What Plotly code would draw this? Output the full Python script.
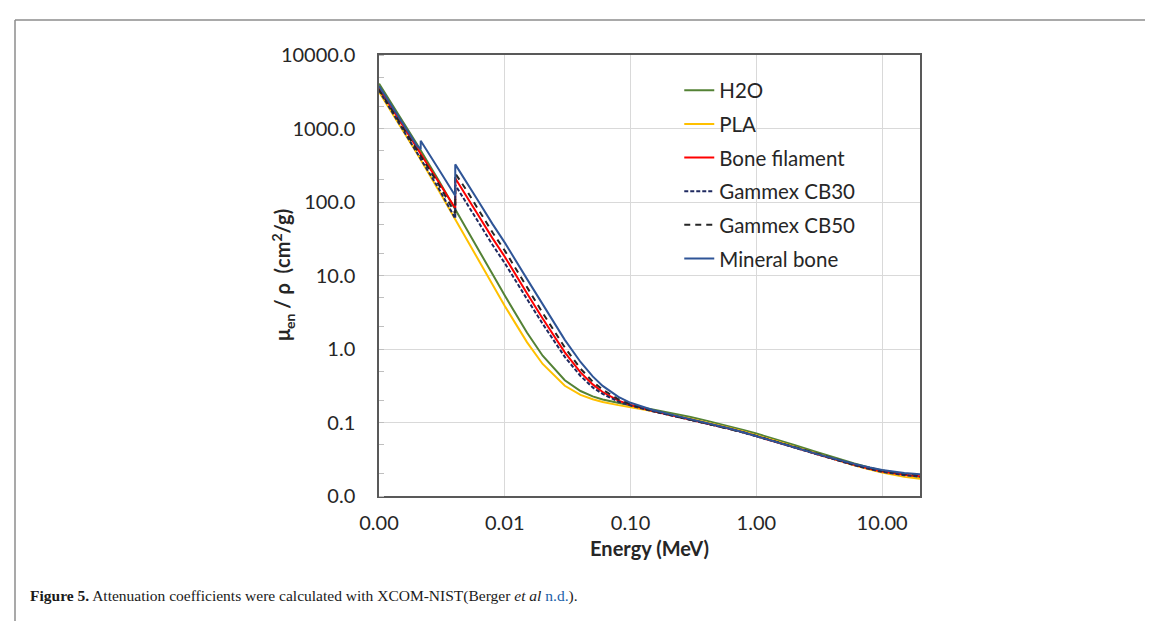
import plotly.graph_objects as go

# ---------------- data (MeV, cm2/g) ----------------
E_plain = [0.001, 0.0015, 0.002, 0.003, 0.004, 0.005, 0.006, 0.008, 0.01, 0.015, 0.02, 0.03,
           0.04, 0.05, 0.06, 0.08, 0.1, 0.15, 0.2, 0.3, 0.4, 0.5, 0.6, 0.8, 1, 1.25, 1.5, 2,
           3, 4, 5, 6, 8, 10, 15, 20]
h2o = [4078, 1376, 617.3, 192.9, 82.78, 42.58, 24.64, 10.37, 5.329, 1.673, 0.8096, 0.3756,
       0.2683, 0.2269, 0.2059, 0.1837, 0.1707, 0.1505, 0.137, 0.1186, 0.1061, 0.09687, 0.08956,
       0.07865, 0.07072, 0.06323, 0.05754, 0.04942, 0.03969, 0.03403, 0.03031, 0.0277, 0.02429,
       0.02219, 0.01941, 0.01813]
pla = [3144, 1038, 459.9, 141.6, 60.28, 30.85, 17.80, 7.474, 3.851, 1.240, 0.6258, 0.3159,
       0.2380, 0.2070, 0.1906, 0.1723, 0.1611, 0.1426, 0.1300, 0.1126, 0.1008, 0.0920, 0.0851,
       0.0747, 0.0672, 0.0601, 0.0547, 0.0469, 0.0377, 0.0323, 0.0287, 0.0262, 0.0229, 0.0209,
       0.0182, 0.0171]

E_ca = [0.001, 0.0015, 0.002, 0.003, 0.004, 0.0040381, 0.0040381, 0.005, 0.006, 0.008, 0.01,
        0.015, 0.02, 0.03, 0.04, 0.05, 0.06, 0.08, 0.1, 0.15, 0.2, 0.3, 0.4, 0.5, 0.6, 0.8, 1,
        1.25, 1.5, 2, 3, 4, 5, 6, 8, 10, 15, 20]
bone_filament = [3550, 1190, 530, 185, 84, 82, 210, 119, 71, 32, 18.0, 5.75, 2.6, 0.90, 0.48,
                 0.33, 0.26, 0.198, 0.173, 0.143, 0.128, 0.1100, 0.0982, 0.0896, 0.0829, 0.0728,
                 0.0654, 0.0585, 0.0533, 0.0459, 0.0371, 0.0321, 0.0288, 0.0265, 0.0235, 0.0216,
                 0.0194, 0.0185]
cb30 = [3300, 1080, 470, 150, 61, 59.5, 170, 96, 57.5, 26, 14.7, 4.8, 2.2, 0.78, 0.43, 0.30,
        0.245, 0.192, 0.170, 0.142, 0.127, 0.1095, 0.0978, 0.0893, 0.0826, 0.0725, 0.0652,
        0.0583, 0.0531, 0.0457, 0.0369, 0.0318, 0.0285, 0.0262, 0.0232, 0.0213, 0.0192, 0.0183]
cb50 = [3400, 1130, 500, 170, 72, 70, 245, 142, 85, 38.5, 21.8, 6.95, 3.1, 1.05, 0.54, 0.36,
        0.28, 0.207, 0.177, 0.145, 0.129, 0.1105, 0.0985, 0.0899, 0.0831, 0.0729, 0.0655,
        0.0586, 0.0534, 0.0460, 0.0373, 0.0323, 0.0291, 0.0269, 0.0240, 0.0222, 0.0201, 0.0193]

E_pca = [0.001, 0.0015, 0.002, 0.0021455, 0.0021455, 0.003, 0.004, 0.0040381, 0.0040381, 0.005,
         0.006, 0.008, 0.01, 0.015, 0.02, 0.03, 0.04, 0.05, 0.06, 0.08, 0.1, 0.15, 0.2, 0.3,
         0.4, 0.5, 0.6, 0.8, 1, 1.25, 1.5, 2, 3, 4, 5, 6, 8, 10, 15, 20]
mineral_bone = [3781, 1295, 586.9, 520.0, 680.0, 275.0, 125.0, 121.5, 325.0, 186.0, 111.0, 50.0,
                28.0, 9.0, 4.0, 1.331, 0.6655, 0.4242, 0.3148, 0.2229, 0.1855, 0.148, 0.1309,
                0.1113, 0.09908, 0.09022, 0.08332, 0.07308, 0.06566, 0.05871, 0.05346, 0.04607,
                0.03745, 0.03257, 0.02946, 0.02734, 0.02440, 0.02260, 0.02060, 0.01980]

x_tickvals = [0.001, 0.01, 0.1, 1, 10]
x_ticktext = ["0.00", "0.01", "0.10", "1.00", "10.00"]
y_tickvals = [0.01, 0.1, 1, 10, 100, 1000, 10000]
y_ticktext = ["0.0", "0.1", "1.0", "10.0", "100.0", "1000.0", "10000.0"]

series = [
    ("H2O", E_plain, h2o, "#548235", "solid"),
    ("PLA", E_plain, pla, "#FFC000", "solid"),
    ("Bone filament", E_ca, bone_filament, "#FF0000", "solid"),
    ("Gammex CB30", E_ca, cb30, "#1F2A60", "4px,2px"),
    ("Gammex CB50", E_ca, cb50, "#262626", "6px,5px"),
    ("Mineral bone", E_pca, mineral_bone, "#2F5597", "solid"),
]

W, H = 1153, 621
L, R, T, B = 371, 912, 47, 488

fig = go.Figure()
for i, (name, xs, ys, col, dash) in enumerate(series):
    fig.add_trace(go.Scatter(x=xs, y=ys, mode="lines", name=name, legendgroup=str(i),
                             line=dict(color=col, width=2, dash=dash)))

FONT = "Lato"
TXT = "#262626"
fig.update_layout(
    width=W, height=H,
    margin=dict(l=L, r=W - R, t=T, b=H - B),
    paper_bgcolor="white", plot_bgcolor="white",
    font=dict(family=FONT, color=TXT, size=20),
    showlegend=True,
    legend=dict(x=0.555, y=0.965, xanchor="left", yanchor="top", bgcolor="rgba(0,0,0,0)",
                font=dict(size=20.5, family=FONT, color=TXT),
                traceorder="grouped", tracegroupgap=4, itemwidth=30),
    xaxis=dict(type="log", range=[-3, 1.30103], tickvals=x_tickvals, ticktext=x_ticktext,
               tickfont=dict(size=20),
               showgrid=True, gridcolor="#D9D9D9", gridwidth=1,
               showline=True, linecolor="#595959", linewidth=1.5, mirror=True,
               ticks="", ticklabelstandoff=8, zeroline=False,
               title=dict(text="<b>Energy (MeV)</b>", standoff=9,
                          font=dict(size=20, family=FONT, color=TXT))),
    yaxis=dict(type="log", range=[-2, 4], tickvals=y_tickvals, ticktext=y_ticktext,
               tickfont=dict(size=20),
               showgrid=True, gridcolor="#D9D9D9", gridwidth=1,
               showline=True, linecolor="#595959", linewidth=1.5, mirror=True,
               ticks="", ticklabelstandoff=18, zeroline=False,
               minor=dict(ticks="inside", ticklen=5, tickcolor="#BFBFBF", showgrid=False)),
)

pw, ph = R - L, B - T
def px(xp):
    return (xp - L) / pw
def py(yp):
    return (B - yp) / ph

# y-axis title placed close to tick labels as in the reference
fig.add_annotation(xref="paper", yref="paper", x=px(275), y=py(267), xanchor="center", yanchor="middle",
                   showarrow=False, textangle=-90,
                   text="<b>μ<sub>en</sub> / ρ  (cm<sup>2</sup>/g)</b>",
                   font=dict(family=FONT, size=20, color=TXT))

# page frame lines
fig.add_shape(type="line", xref="paper", yref="paper", x0=px(7), x1=px(W + 5), y0=py(12), y1=py(12),
              line=dict(color="#8C8C8C", width=1.5))
fig.add_shape(type="line", xref="paper", yref="paper", x0=px(7), x1=px(7), y0=py(12), y1=py(H + 5),
              line=dict(color="#8C8C8C", width=1.5))

fig.add_annotation(xref="paper", yref="paper", x=px(20), y=py(588), xanchor="left", yanchor="middle",
                   showarrow=False, align="left",
                   text="<b>Figure 5.</b> Attenuation coefficients were calculated with XCOM-NIST(Berger "
                        "<i>et al</i> <span style='color:#2060A8'>n.d.</span>).",
                   font=dict(family="Liberation Serif", size=15.5, color="#1a1a1a"))

fig.write_html("out.html")
